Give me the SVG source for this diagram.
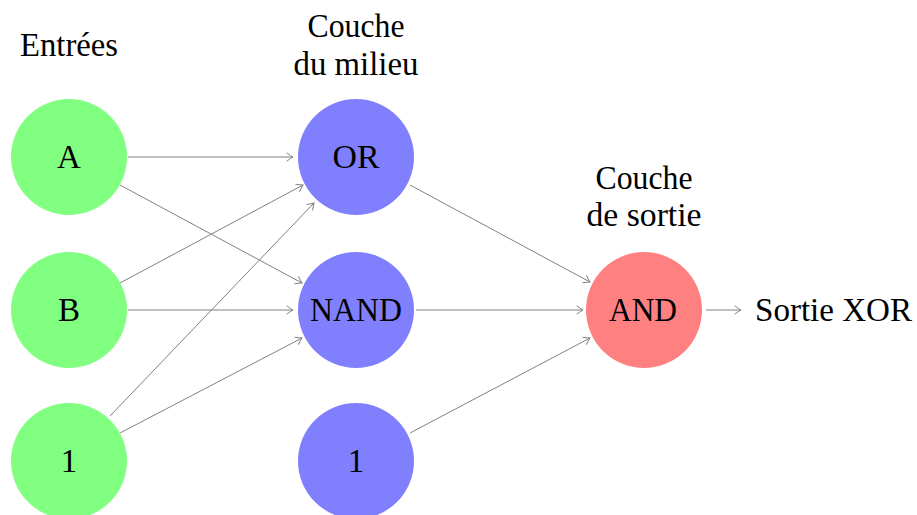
<svg xmlns="http://www.w3.org/2000/svg" width="917" height="515" viewBox="0 0 917 515">
  <style>
    .lbl { font-family: "Liberation Serif", "DejaVu Serif", serif; font-size: 33px; fill: #000; text-anchor: middle; }
    .in { fill: #80ff80; }
    .mid { fill: #8080ff; }
    .out { fill: #ff8080; }
    .edge { stroke: #808080; stroke-width: 1; fill: none; marker-end: url(#to); }
  </style>
  <defs>
    <marker id="to" viewBox="-6 -5 8 10" refX="1" refY="0" markerWidth="8" markerHeight="10" markerUnits="userSpaceOnUse" orient="auto">
      <path d="M-5,-4 Q-1,-1 1,0 Q-1,1 -5,4" fill="none" stroke="#808080" stroke-width="1" stroke-linecap="round"/>
    </marker>
  </defs>
  <rect width="917" height="515" fill="#fff"/>

  <!-- layer headings -->
  <text class="lbl" x="69" y="56" textLength="98" lengthAdjust="spacingAndGlyphs">Entrées</text>
  <text class="lbl" x="356" y="37" textLength="97" lengthAdjust="spacingAndGlyphs">Couche</text>
  <text class="lbl" x="356" y="75" textLength="125" lengthAdjust="spacingAndGlyphs">du milieu</text>
  <text class="lbl" x="644" y="189" textLength="97" lengthAdjust="spacingAndGlyphs">Couche</text>
  <text class="lbl" x="644" y="226" textLength="115" lengthAdjust="spacingAndGlyphs">de sortie</text>

  <!-- connectors -->
  <g id="connectors">
    <line class="edge" x1="128" y1="157" x2="293" y2="157"/>
    <line class="edge" x1="120" y1="185" x2="302" y2="283"/>
    <line class="edge" x1="120" y1="283" x2="303" y2="185"/>
    <line class="edge" x1="128" y1="310" x2="293" y2="310"/>
    <line class="edge" x1="110" y1="416" x2="314" y2="203"/>
    <line class="edge" x1="120" y1="433" x2="302" y2="338"/>
    <line class="edge" x1="410" y1="185" x2="590" y2="282"/>
    <line class="edge" x1="416" y1="310" x2="583" y2="310"/>
    <line class="edge" x1="410" y1="433" x2="590" y2="338"/>
    <line class="edge" x1="706" y1="310" x2="741" y2="310"/>
  </g>

  <!-- input layer -->
  <g id="in-a"><circle class="in" cx="69" cy="157" r="58"/><text class="lbl" x="69" y="168">A</text></g>
  <g id="in-b"><circle class="in" cx="69" cy="310" r="58"/><text class="lbl" x="69" y="321">B</text></g>
  <g id="in-1"><circle class="in" cx="69" cy="461" r="58"/><text class="lbl" x="69" y="472">1</text></g>

  <!-- middle layer -->
  <g id="mid-or"><circle class="mid" cx="356" cy="157" r="58"/><text class="lbl" x="356" y="168" textLength="47" lengthAdjust="spacingAndGlyphs">OR</text></g>
  <g id="mid-nand"><circle class="mid" cx="356" cy="310" r="58"/><text class="lbl" x="356" y="321" textLength="92" lengthAdjust="spacingAndGlyphs">NAND</text></g>
  <g id="mid-1"><circle class="mid" cx="356" cy="461" r="58"/><text class="lbl" x="356" y="472">1</text></g>

  <!-- output layer -->
  <g id="out-and"><circle class="out" cx="644" cy="310" r="58"/><text class="lbl" x="643" y="321" textLength="68" lengthAdjust="spacingAndGlyphs">AND</text></g>
  <g id="out-label"><text class="lbl" x="833.5" y="321" textLength="157" lengthAdjust="spacingAndGlyphs">Sortie XOR</text></g>
</svg>
